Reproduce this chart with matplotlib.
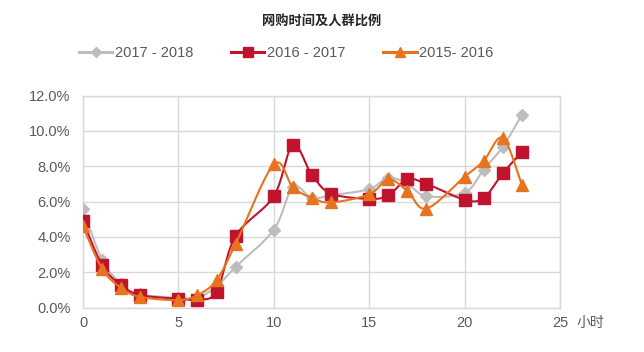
import numpy as np
import matplotlib
matplotlib.use("Agg")
import matplotlib.pyplot as plt
from matplotlib import font_manager as fm

hours = [0, 1, 2, 3, 5, 6, 7, 8, 10, 11, 12, 13, 15, 16, 17, 18, 20, 21, 22, 23]
s_2017_2018 = [5.6, 2.7, 1.35, 0.75, 0.55, 0.55, 1.2, 2.3, 4.4, 6.8, 6.2, 6.35, 6.7, 7.35, 7.0, 6.3, 6.5, 7.8, 9.1, 10.9]
s_2016_2017 = [4.9, 2.4, 1.25, 0.7, 0.5, 0.45, 0.9, 4.05, 6.3, 9.2, 7.5, 6.45, 6.15, 6.35, 7.25, 7.0, 6.1, 6.2, 7.6, 8.8]
s_2015_2016 = [4.6, 2.2, 1.1, 0.6, 0.42, 0.7, 1.55, 3.6, 8.1, 6.8, 6.2, 5.95, 6.4, 7.25, 6.6, 5.6, 7.4, 8.3, 9.6, 6.95]
labels = ["2017 - 2018", "2016 - 2017", "2015- 2016"]
title = "网购时间及人群比例"
xticks = [0, 5, 10, 15, 20, 25]
yticks = [0, 2, 4, 6, 8, 10, 12]

avail = {f.name for f in fm.fontManager.ttflist}
narrow = "Liberation Sans Narrow" if "Liberation Sans Narrow" in avail else "Liberation Sans"
plt.rcParams['font.family'] = [narrow, 'Noto Sans CJK SC', 'DejaVu Sans']

def smooth(x, y, n=20):
    P = np.column_stack([x, y]).astype(float)
    m = len(P)
    out = [P[0]]
    for i in range(m - 1):
        p0 = P[i - 1] if i > 0 else P[i]
        p1 = P[i]
        p2 = P[i + 1]
        p3 = P[i + 2] if i + 2 < m else P[i + 1]
        c1 = p1 + (p2 - p0) / 6.0
        c2 = p2 - (p3 - p1) / 6.0
        t = np.linspace(0, 1, n)[1:, None]
        seg = ((1 - t) ** 3) * p1 + 3 * ((1 - t) ** 2) * t * c1 + 3 * (1 - t) * t ** 2 * c2 + t ** 3 * p2
        out.extend(seg)
    out = np.array(out)
    return out[:, 0], out[:, 1]

fig = plt.figure(figsize=(6.44, 3.52), dpi=100)
ax = fig.add_axes([83 / 644, 1 - 307.5 / 352, (560 - 83) / 644, (307.5 - 95.5) / 352])

series = [
    (s_2017_2018, "#BDBDBD", "D", 6, 3),
    (s_2016_2017, "#C0142E", "s", 8.5, 4),
    (s_2015_2016, "#E8731F", "^", 8.5, 5),
]
handles = []
for (vals, col, mk, ms, z), lab in zip(series, labels):
    sx, sy = smooth(hours, vals)
    ax.plot(sx, sy, color=col, lw=1.5, zorder=z)
    ax.plot(hours, vals, ls="none", marker=mk, ms=ms, color=col, mec=col, zorder=z)
    h, = ax.plot([], [], color=col, lw=2.2, marker=mk, ms=ms * 0.9, mec=col)
    handles.append(h)

ax.set_xlim(0, 25)
ax.set_ylim(0, 12)
ax.set_xticks(xticks)
ax.set_yticks(yticks)
ax.set_yticklabels([f"{v:.1f}%" for v in yticks])
ax.grid(True, color="#D9D9D9", lw=1.0)
ax.set_axisbelow(True)
for sp in ax.spines.values():
    sp.set_color("#D9D9D9")
    sp.set_linewidth(1.0)
ax.tick_params(length=0, labelsize=10.5, colors="#595959")
ax.tick_params(axis="y", pad=9)
ax.tick_params(axis="x", pad=6)

fig.text(590 / 644, 1 - 323 / 352, "小时", fontsize=10, color="#595959",
         ha="center", va="center", family=['Noto Sans CJK SC', 'DejaVu Sans'])
fig.text(0.5, 1 - 22 / 352, title, fontsize=9.5, fontweight="bold", color="#262626",
         ha="center", va="center", family=['Noto Sans CJK SC', 'DejaVu Sans'])

leg = fig.legend(handles, labels, loc="center", bbox_to_anchor=(0.444, 1 - 53 / 352), ncol=3,
                 frameon=False, fontsize=10.5, handlelength=2.3, columnspacing=2.6,
                 handletextpad=0.15)
for t in leg.get_texts():
    t.set_color("#595959")

fig.savefig("out.png", dpi=100, facecolor="white")
